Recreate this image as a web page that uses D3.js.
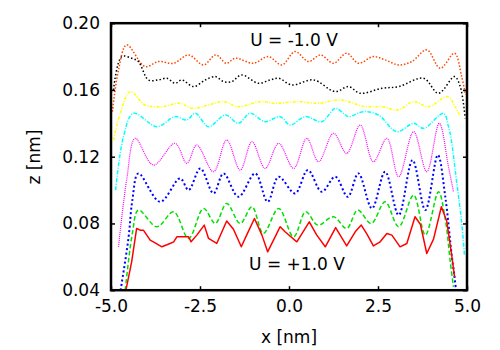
<!DOCTYPE html>
<html><head><meta charset="utf-8">
<script src="https://cdn.jsdelivr.net/npm/d3@7"></script>
<style>html,body{margin:0;padding:0;background:#fff;}text{font-family:"DejaVu Sans",sans-serif;}</style>
</head><body><svg id="c" width="500" height="350"></svg>
<script>
const xTicks = [-5.0, -2.5, 0.0, 2.5, 5.0];
const zTicks = [0.04, 0.08, 0.12, 0.16, 0.20];

const orangeX = [-4.96,-4.79,-4.56,-4.04,-3.67,-3.24,-2.82,-2.40,-2.06,-1.76,-1.51,-1.00,-0.58,-0.20,0.17,0.55,0.88,1.25,1.62,1.95,2.37,2.70,3.08,3.45,3.87,4.25,4.65,4.85,4.96];
const orangeZ = [0.147,0.172,0.187,0.174,0.177,0.176,0.181,0.175,0.181,0.176,0.179,0.176,0.180,0.175,0.183,0.177,0.181,0.176,0.182,0.176,0.180,0.178,0.175,0.177,0.184,0.173,0.182,0.168,0.157];

const blackX = [-4.93,-4.70,-4.42,-4.23,-3.95,-3.67,-3.43,-3.20,-3.01,-2.68,-2.35,-2.07,-1.84,-1.61,-1.33,-0.86,-0.53,-0.29,0.08,0.69,1.30,1.67,2.00,2.61,3.08,3.78,4.20,4.65,4.81,4.95];
const blackZ = [0.160,0.180,0.179,0.177,0.166,0.166,0.167,0.164,0.166,0.162,0.166,0.168,0.165,0.165,0.169,0.164,0.166,0.167,0.163,0.166,0.159,0.162,0.158,0.161,0.162,0.167,0.158,0.168,0.162,0.143];

const yellowX = [-4.93,-4.74,-4.46,-4.04,-3.57,-3.06,-2.73,-2.26,-1.84,-1.42,-0.81,-0.39,0.27,0.83,1.44,2.14,2.61,3.06,3.50,3.92,4.46,4.67,4.81];
const yellowZ = [0.130,0.146,0.159,0.151,0.150,0.152,0.149,0.151,0.153,0.150,0.153,0.152,0.153,0.152,0.154,0.150,0.150,0.148,0.153,0.150,0.156,0.150,0.144];

const cyanX = [-4.87,-4.65,-4.37,-3.71,-3.20,-2.87,-2.63,-2.26,-1.79,-1.42,-1.09,-0.67,-0.25,0.03,0.46,0.92,1.30,1.53,1.67,2.09,2.51,3.03,3.50,3.78,4.34,4.48,4.56,4.68,4.85,4.93];
const cyanZ = [0.100,0.132,0.146,0.138,0.144,0.142,0.146,0.138,0.145,0.140,0.146,0.141,0.144,0.139,0.144,0.141,0.149,0.146,0.144,0.147,0.145,0.135,0.140,0.137,0.146,0.138,0.130,0.110,0.0805,0.0607];

const magentaX = [-4.79,-4.56,-4.32,-3.81,-3.20,-2.87,-2.59,-2.12,-1.75,-1.37,-1.04,-0.67,-0.29,0.13,0.50,0.83,1.25,1.62,2.00,2.37,2.75,3.08,3.50,3.87,4.22,4.48,4.62];
const magentaZ = [0.066,0.106,0.131,0.115,0.128,0.116,0.127,0.111,0.130,0.112,0.129,0.113,0.128,0.113,0.131,0.117,0.134,0.122,0.139,0.117,0.131,0.108,0.135,0.111,0.140,0.114,0.099];

const blueX = [-4.73,-4.51,-4.40,-4.23,-3.62,-3.06,-2.82,-2.49,-2.12,-1.84,-1.42,-0.95,-0.60,-0.29,0.17,0.53,0.92,1.30,1.65,1.95,2.33,2.70,3.08,3.47,3.83,4.18,4.39,4.57,4.65,4.69];
const blueZ = [0.040,0.071,0.094,0.110,0.093,0.107,0.100,0.113,0.098,0.110,0.096,0.110,0.093,0.108,0.098,0.112,0.099,0.108,0.096,0.110,0.089,0.111,0.085,0.118,0.088,0.121,0.096,0.061,0.048,0.040];

const greenX = [-4.60,-4.40,-4.23,-3.71,-3.24,-2.82,-2.40,-2.07,-1.75,-1.37,-1.04,-0.72,-0.29,0.13,0.47,0.81,1.25,1.62,1.93,2.31,2.70,3.08,3.50,3.83,4.20,4.39,4.53,4.62];
const greenZ = [0.040,0.074,0.088,0.078,0.087,0.071,0.089,0.080,0.092,0.080,0.090,0.074,0.089,0.072,0.087,0.079,0.084,0.077,0.088,0.080,0.093,0.078,0.097,0.073,0.099,0.0825,0.057,0.042];

const redX = [-4.58,-4.42,-4.28,-4.18,-4.09,-3.90,-3.81,-3.57,-3.34,-3.24,-3.15,-2.96,-2.82,-2.75,-2.59,-2.38,-2.26,-2.03,-1.75,-1.56,-1.34,-1.19,-0.97,-0.76,-0.60,-0.39,-0.25,-0.11,0.22,0.57,0.78,1.02,1.31,1.62,1.86,2.03,2.19,2.37,2.56,2.75,2.89,3.12,3.31,3.54,3.69,3.87,4.06,4.28,4.43,4.57,4.65];
const redZ = [0.040,0.057,0.077,0.076,0.076,0.070,0.069,0.066,0.068,0.069,0.072,0.072,0.072,0.069,0.073,0.079,0.071,0.068,0.0815,0.0765,0.066,0.073,0.083,0.073,0.063,0.072,0.078,0.075,0.069,0.081,0.073,0.066,0.0775,0.0665,0.075,0.079,0.0736,0.0665,0.069,0.074,0.073,0.066,0.068,0.084,0.0795,0.062,0.0706,0.090,0.0815,0.061,0.048];

const annotTop = "U = -1.0 V";
const annotBottom = "U = +1.0 V";

const series = [
  {x: orangeX, z: orangeZ, color: "#ff4500", w: 1.5, dash: "1.5,1.8", smooth: true},
  {x: blackX, z: blackZ, color: "#000000", w: 1.5, dash: "1.5,2.2", smooth: true},
  {x: yellowX, z: yellowZ, color: "#ffff00", w: 1.5, dash: "3,1.5,1,1.5", smooth: true},
  {x: cyanX, z: cyanZ, color: "#00ffff", w: 1.5, dash: "4,1.5,1,1.5", smooth: true},
  {x: magentaX, z: magentaZ, color: "#ff00ff", w: 1.2, dash: "1,1", smooth: true},
  {x: blueX, z: blueZ, color: "#0000ff", w: 2, dash: "2,2.5", smooth: true},
  {x: greenX, z: greenZ, color: "#00e000", w: 1.5, dash: "4.5,2.5", smooth: true},
  {x: redX, z: redZ, color: "#ff0000", w: 1.5, dash: null, smooth: false}
];

const L = 111, R = 467, T = 23.2, B = 290.2;
const x = d3.scaleLinear().domain([-5, 5]).range([L, R]);
const y = d3.scaleLinear().domain([0.04, 0.20]).range([B, T]);
const svg = d3.select("#c");

svg.append("defs").append("clipPath").attr("id", "clip")
  .append("rect").attr("x", L).attr("y", T).attr("width", R - L).attr("height", B - T);

const g = svg.append("g").attr("clip-path", "url(#clip)");
series.forEach(s => {
  const pts = s.x.map((v, i) => [v, s.z[i]]);
  const line = d3.line().x(d => x(d[0])).y(d => y(d[1]))
    .curve(s.smooth ? d3.curveCatmullRom.alpha(0.5) : d3.curveLinear);
  g.append("path").attr("d", line(pts)).attr("fill", "none")
    .attr("stroke", s.color).attr("stroke-width", s.w)
    .attr("stroke-dasharray", s.dash).attr("stroke-linejoin", "round");
});

const fs = 17;
const axB = d3.axisBottom(x).tickValues(xTicks).tickSize(-4).tickPadding(10).tickFormat(d3.format(".1f"));
const axT = d3.axisTop(x).tickValues(xTicks).tickSize(-4).tickFormat("");
const axLft = d3.axisLeft(y).tickValues(zTicks).tickSize(-4).tickPadding(11).tickFormat(d3.format(".2f"));
const axRt = d3.axisRight(y).tickValues(zTicks).tickSize(-4).tickFormat("");

function style(sel) {
  sel.select(".domain").remove();
  sel.selectAll(".tick line").attr("stroke", "#000").attr("stroke-width", 1.5);
  sel.selectAll("text").attr("font-size", fs).attr("fill", "#000").attr("font-family", "DejaVu Sans, sans-serif");
}
svg.append("g").attr("transform", `translate(0,${B})`).call(axB).call(style)
  .selectAll("text").text(d => d3.format(".1f")(d).replace("\u2212", "-"));
svg.append("g").attr("transform", `translate(0,${T})`).call(axT).call(style);
svg.append("g").attr("transform", `translate(${L},0)`).call(axLft).call(style);
svg.append("g").attr("transform", `translate(${R},0)`).call(axRt).call(style);

svg.append("rect").attr("x", L).attr("y", T).attr("width", R - L).attr("height", B - T)
  .attr("fill", "none").attr("stroke", "#000").attr("stroke-width", 2.5);

svg.append("text").attr("x", (L + R) / 2).attr("y", 343).attr("text-anchor", "middle")
  .attr("font-size", fs).text("x [nm]");
svg.append("text").attr("transform", "translate(40,157) rotate(-90)").attr("text-anchor", "middle")
  .attr("font-size", fs).text("z [nm]");
svg.append("text").attr("x", 294).attr("y", 46).attr("text-anchor", "middle")
  .attr("font-size", fs).text(annotTop);
svg.append("text").attr("x", 297).attr("y", 270).attr("text-anchor", "middle")
  .attr("font-size", fs).text(annotBottom);
</script></body></html>
